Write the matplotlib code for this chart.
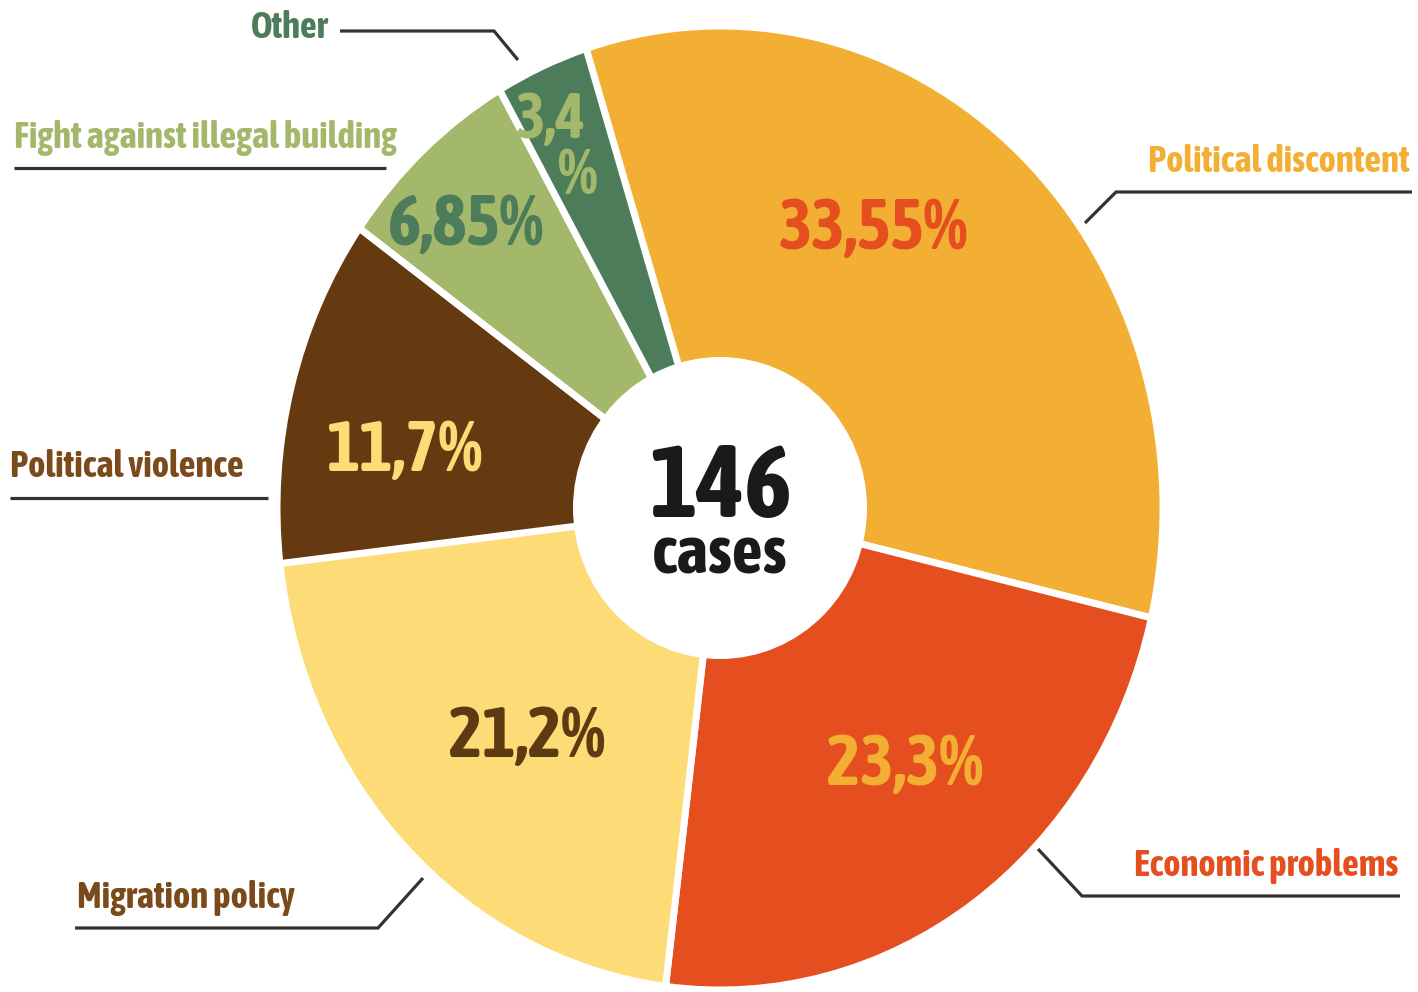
import matplotlib
matplotlib.use("Agg")
import matplotlib.pyplot as plt
from matplotlib import font_manager
from matplotlib.patches import Ellipse

# look for a condensed bold face, the original uses one
fonts = font_manager.fontManager.ttflist
narrow_bold = [f.name for f in fonts
               if ("Narrow" in f.name or "Condensed" in f.name)
               and isinstance(f.weight, int) and f.weight >= 600]
narrow_any = [f.name for f in fonts if ("Narrow" in f.name or "Condensed" in f.name)]
if narrow_bold:
    FAMILY = narrow_bold[0]
elif narrow_any:
    FAMILY = narrow_any[0]
else:
    FAMILY = "Roboto"

plt.rcParams['font.family'] = [FAMILY, 'DejaVu Sans']
plt.rcParams['font.weight'] = 'bold'

# data
categories = ["Political discontent", "Economic problems", "Migration policy",
              "Political violence", "Fight against illegal building", "Other"]
shares = [33.55, 23.3, 21.2, 11.7, 6.85, 3.4]
total_cases = 146

slice_colors = ["#F2AF34", "#E54E1E", "#FDDB77", "#663A10", "#A3B86B", "#4C7C59"]
pct_colors = ["#E54E1E", "#F2AF34", "#5C3A12", "#FDDB77", "#4C7C59", "#A3B86B"]
name_colors = ["#F2AF34", "#E54E1E", "#7A4A1A", "#7A4A1A", "#A3B86B", "#4C7C59"]

W, H = 1418, 992
cx, cy = 720, 508        # pie centre, pixels
rx, ry = 443, 482        # outer radii (slightly stretched vertically)
hx, hy = 147, 151        # hole radii

fig = plt.figure(figsize=(W / 100, H / 100), dpi=100)
fig.patch.set_facecolor("white")

# pie axes, unit = outer radius
ax = fig.add_axes([0, 0, 1, 1])
ax.pie(shares, colors=slice_colors, startangle=107.6, counterclock=False,
       radius=1, wedgeprops=dict(edgecolor="white", linewidth=5))
ax.add_patch(Ellipse((0, 0), 2 * hx / rx, 2 * hy / ry, facecolor="white",
                     edgecolor="none", zorder=5))
ax.set_aspect("auto")
ax.set_xlim(-cx / rx, (W - cx) / rx)
ax.set_ylim(-(H - cy) / ry, cy / ry)
ax.axis("off")

# overlay axes in pixel coordinates for labels and leader lines
ov = fig.add_axes([0, 0, 1, 1])
ov.set_xlim(0, W)
ov.set_ylim(H, 0)
ov.axis("off")
ov.patch.set_alpha(0)


def pct_text(v):
    return f"{v:g}".replace(".", ",") + "%"


# percentage labels inside the slices
pct_pos = [(874, 229), (905, 765), (527, 738), (404, 452), (466, 225)]
for i, (x, y) in enumerate(pct_pos):
    ov.text(x, y, pct_text(shares[i]), color=pct_colors[i], fontsize=51,
            ha="center", va="center")
# the small "Other" slice gets its label split in two lines
other_txt = pct_text(shares[5])
ov.text(551, 121, other_txt[:-1], color=pct_colors[5], fontsize=45,
        ha="center", va="center")
ov.text(578, 177, "%", color=pct_colors[5], fontsize=46,
        ha="center", va="center")

# centre text
ov.text(721, 517, str(total_cases), color="#1a1a1a", fontsize=73,
        ha="center", va="baseline")
ov.text(720, 574, "cases", color="#1a1a1a", fontsize=49,
        ha="center", va="baseline")

# category labels with leader lines
line_kw = dict(color="#333333", linewidth=2.3, solid_capstyle="butt")
name_pos = [(1410, 162, "right"), (1398, 866, "right"), (77, 898, "left"),
            (10, 467, "left"), (14, 138, "left"), (328, 28, "right")]
leaders = [
    ([1412, 1116, 1085], [192, 192, 223]),
    ([1400, 1082, 1038], [896, 896, 849]),
    ([75, 378, 423], [928, 928, 878]),
    ([10, 268], [498, 498]),
    ([14, 386], [168, 168]),
    ([340, 494, 518], [31, 31, 60]),
]
for i, (x, y, ha) in enumerate(name_pos):
    ov.text(x, y, categories[i], color=name_colors[i], fontsize=26.5,
            ha=ha, va="center")
    xs, ys = leaders[i]
    ov.plot(xs, ys, **line_kw)

fig.savefig("out.png", dpi=100, facecolor="white")
